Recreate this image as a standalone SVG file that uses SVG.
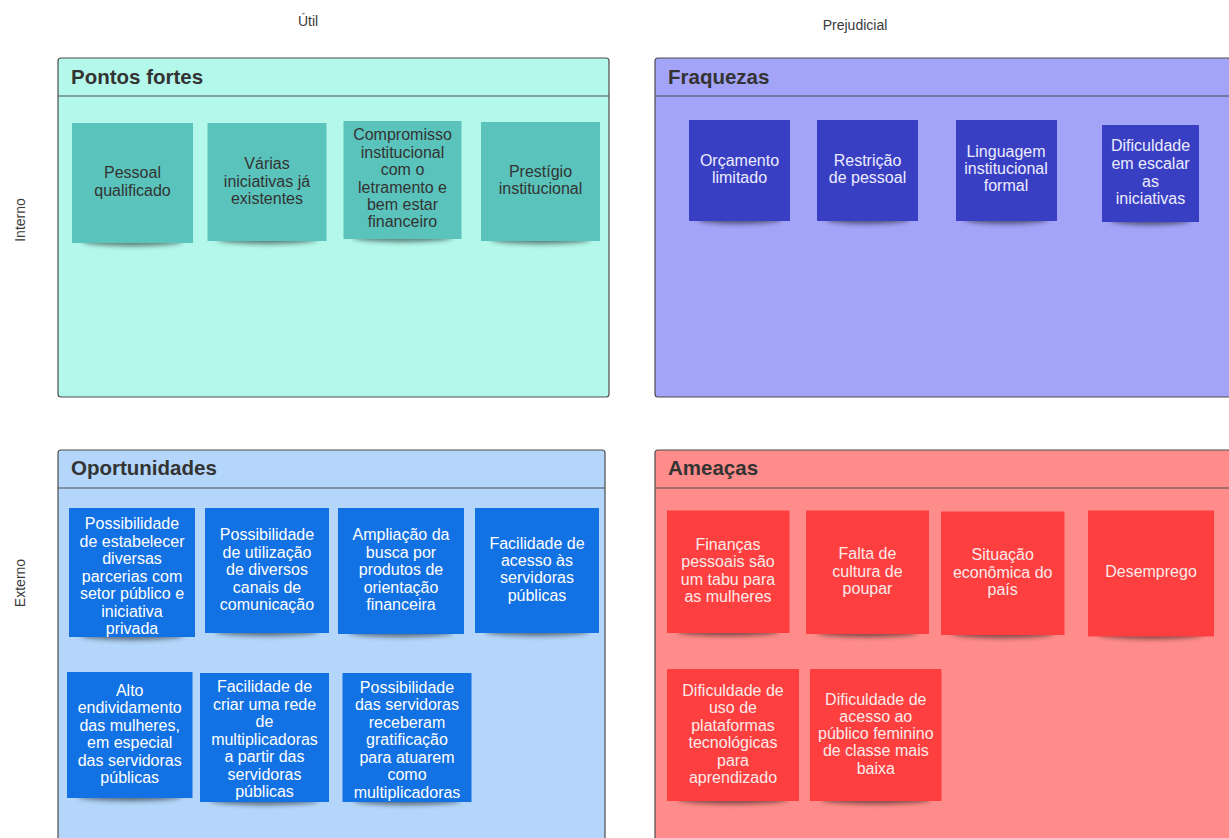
<svg xmlns="http://www.w3.org/2000/svg" width="1229" height="838" viewBox="0 0 1229 838">
<defs>
<filter id="sh" x="-30%" y="-200%" width="160%" height="500%"><feGaussianBlur stdDeviation="2.8"/></filter>
</defs>
<style>
text{font-family:"Liberation Sans",Arial,sans-serif}
.lbl{font-size:14px;fill:#3a3a3a}
.ttl{font-size:20.5px;font-weight:bold;fill:#333333}
.frame{stroke:#4d4d4d;stroke-width:1.2}
.nt{font-size:16px;text-anchor:middle}
.dk{fill:#333333}
.lt{fill:#ffffff}
.lr{fill:#fbeaea}
.lp{fill:#ececff}
.shd{fill:#000000;opacity:0.5;filter:url(#sh)}
.teal{fill:#5ac3bb}
.indigo{fill:#393fc3}
.blue{fill:#1271e3}
.red{fill:#fd3f3f}
</style>
<rect width="1229" height="838" fill="#ffffff"/>
<g id="axis-labels">
<text class="lbl" x="308" y="26" text-anchor="middle">Útil</text>
<text class="lbl" x="855" y="30" text-anchor="middle">Prejudicial</text>
<text class="lbl" x="0" y="0" text-anchor="middle" transform="translate(25 220) rotate(-90)">Interno</text>
<text class="lbl" x="0" y="0" text-anchor="middle" transform="translate(25 583) rotate(-90)">Externo</text>
</g>
<g id="pontos-fortes">
<rect class="frame" x="58" y="58" width="551" height="339" rx="3" fill="#b3f8eb"/>
<line class="frame" x1="58" y1="96" x2="609" y2="96"/>
<text class="ttl" x="71" y="84">Pontos fortes</text>
</g>
<g id="fraquezas">
<rect class="frame" x="655" y="58" width="600" height="339" rx="3" fill="#a3a3f8"/>
<line class="frame" x1="655" y1="96" x2="1240" y2="96"/>
<text class="ttl" x="668" y="84">Fraquezas</text>
</g>
<g id="oportunidades">
<rect class="frame" x="58" y="450" width="547" height="420" rx="3" fill="#b3d6fa"/>
<line class="frame" x1="58" y1="488" x2="605" y2="488"/>
<text class="ttl" x="71" y="475">Oportunidades</text>
</g>
<g id="ameacas">
<rect class="frame" x="655" y="450" width="600" height="420" rx="3" fill="#fe8c8a"/>
<line class="frame" x1="655" y1="488" x2="1240" y2="488"/>
<text class="ttl" x="668" y="475">Ameaças</text>
</g>

<g id="pf1"><ellipse class="shd" cx="132.5" cy="241" rx="50" ry="5"/><rect class="teal" x="72" y="123" width="121" height="120"/>
<text class="nt dk"><tspan x="132.5" y="178">Pessoal</tspan><tspan x="132.5" y="195.5">qualificado</tspan></text></g>
<g id="pf2"><ellipse class="shd" cx="267" cy="239" rx="50" ry="5"/><rect class="teal" x="207.5" y="123" width="119" height="118"/>
<text class="nt dk"><tspan x="267" y="169">Várias</tspan><tspan x="267" y="186.5">iniciativas já</tspan><tspan x="267" y="204">existentes</tspan></text></g>
<g id="pf3"><ellipse class="shd" cx="402.5" cy="237" rx="50" ry="5"/><rect class="teal" x="343.5" y="121" width="118" height="118"/>
<text class="nt dk"><tspan x="402.5" y="140">Compromisso</tspan><tspan x="402.5" y="157.5">institucional</tspan><tspan x="402.5" y="175">com o</tspan><tspan x="402.5" y="192.5">letramento e</tspan><tspan x="402.5" y="210">bem estar</tspan><tspan x="402.5" y="227">financeiro</tspan></text></g>
<g id="pf4"><ellipse class="shd" cx="540.5" cy="239" rx="50" ry="5"/><rect class="teal" x="481" y="122" width="119" height="119"/>
<text class="nt dk"><tspan x="540.5" y="176.5">Prestígio</tspan><tspan x="540.5" y="194">institucional</tspan></text></g>

<g id="fq1"><ellipse class="shd" cx="739.5" cy="219" rx="42" ry="5"/><rect class="indigo" x="689" y="120" width="101" height="101"/>
<text class="nt lp"><tspan x="739.5" y="165.5">Orçamento</tspan><tspan x="739.5" y="183">limitado</tspan></text></g>
<g id="fq2"><ellipse class="shd" cx="867.5" cy="219" rx="42" ry="5"/><rect class="indigo" x="817" y="120" width="101" height="101"/>
<text class="nt lp"><tspan x="867.5" y="165.5">Restrição</tspan><tspan x="867.5" y="183">de pessoal</tspan></text></g>
<g id="fq3"><ellipse class="shd" cx="1006" cy="219" rx="42" ry="5"/><rect class="indigo" x="956" y="120" width="101" height="101"/>
<text class="nt lp"><tspan x="1006" y="157">Linguagem</tspan><tspan x="1006" y="174">institucional</tspan><tspan x="1006" y="191">formal</tspan></text></g>
<g id="fq4"><ellipse class="shd" cx="1150.5" cy="220" rx="40" ry="5"/><rect class="indigo" x="1102" y="125" width="97" height="97"/>
<text class="nt lp"><tspan x="1150.5" y="151">Dificuldade</tspan><tspan x="1150.5" y="169">em escalar</tspan><tspan x="1150.5" y="186.5">as</tspan><tspan x="1150.5" y="204">iniciativas</tspan></text></g>

<g id="op1"><ellipse class="shd" cx="132" cy="635" rx="52" ry="5"/><rect class="blue" x="69" y="508" width="126" height="129"/>
<text class="nt lt"><tspan x="132" y="529">Possibilidade</tspan><tspan x="132" y="546.5">de estabelecer</tspan><tspan x="132" y="564">diversas</tspan><tspan x="132" y="581.5">parcerias com</tspan><tspan x="132" y="599">setor público e</tspan><tspan x="132" y="616.5">iniciativa</tspan><tspan x="132" y="634">privada</tspan></text></g>
<g id="op2"><ellipse class="shd" cx="267" cy="631" rx="52" ry="5"/><rect class="blue" x="205" y="508" width="124" height="125"/>
<text class="nt lt"><tspan x="267" y="540">Possibilidade</tspan><tspan x="267" y="557.5">de utilização</tspan><tspan x="267" y="575">de diversos</tspan><tspan x="267" y="592.5">canais de</tspan><tspan x="267" y="610">comunicação</tspan></text></g>
<g id="op3"><ellipse class="shd" cx="401" cy="632" rx="52" ry="5"/><rect class="blue" x="338" y="508" width="126" height="126"/>
<text class="nt lt"><tspan x="401" y="540">Ampliação da</tspan><tspan x="401" y="557.5">busca por</tspan><tspan x="401" y="575">produtos de</tspan><tspan x="401" y="592.5">orientação</tspan><tspan x="401" y="610">financeira</tspan></text></g>
<g id="op4"><ellipse class="shd" cx="537" cy="631" rx="52" ry="5"/><rect class="blue" x="475" y="508" width="124" height="125"/>
<text class="nt lt"><tspan x="537" y="549">Facilidade de</tspan><tspan x="537" y="566">acesso às</tspan><tspan x="537" y="583">servidoras</tspan><tspan x="537" y="600.5">públicas</tspan></text></g>
<g id="op5"><ellipse class="shd" cx="130" cy="796" rx="52" ry="5"/><rect class="blue" x="67" y="672" width="125.5" height="126"/>
<text class="nt lt"><tspan x="129.7" y="695.5">Alto</tspan><tspan x="129.7" y="713">endividamento</tspan><tspan x="129.7" y="730.5">das mulheres,</tspan><tspan x="129.7" y="748">em especial</tspan><tspan x="129.7" y="765.5">das servidoras</tspan><tspan x="129.7" y="783">públicas</tspan></text></g>
<g id="op6"><ellipse class="shd" cx="264.5" cy="800" rx="54" ry="5"/><rect class="blue" x="200" y="673" width="129" height="129"/>
<text class="nt lt"><tspan x="264.5" y="692">Facilidade de</tspan><tspan x="264.5" y="709.5">criar uma rede</tspan><tspan x="264.5" y="727">de</tspan><tspan x="264.5" y="744.5">multiplicadoras</tspan><tspan x="264.5" y="762">a partir das</tspan><tspan x="264.5" y="779.5">servidoras</tspan><tspan x="264.5" y="797">públicas</tspan></text></g>
<g id="op7"><ellipse class="shd" cx="407" cy="800" rx="54" ry="5"/><rect class="blue" x="342.5" y="673" width="129" height="129"/>
<text class="nt lt"><tspan x="407" y="692.5">Possibilidade</tspan><tspan x="407" y="710">das servidoras</tspan><tspan x="407" y="727.5">receberam</tspan><tspan x="407" y="745">gratificação</tspan><tspan x="407" y="762.5">para atuarem</tspan><tspan x="407" y="780">como</tspan><tspan x="407" y="797.5">multiplicadoras</tspan></text></g>

<g id="am1"><ellipse class="shd" cx="728" cy="631" rx="51" ry="5"/><rect class="red" x="667" y="510.5" width="122.5" height="122.5"/>
<text class="nt lr"><tspan x="728" y="549.5">Finanças</tspan><tspan x="728" y="567">pessoais são</tspan><tspan x="728" y="584.5">um tabu para</tspan><tspan x="728" y="602">as mulheres</tspan></text></g>
<g id="am2"><ellipse class="shd" cx="867.5" cy="632" rx="51" ry="5"/><rect class="red" x="806" y="510.5" width="123" height="123.5"/>
<text class="nt lr"><tspan x="867.5" y="559">Falta de</tspan><tspan x="867.5" y="576.5">cultura de</tspan><tspan x="867.5" y="594">poupar</tspan></text></g>
<g id="am3"><ellipse class="shd" cx="1002.7" cy="633" rx="51" ry="5"/><rect class="red" x="941" y="511.5" width="123.5" height="123.5"/>
<text class="nt lr"><tspan x="1002.7" y="560">Situação</tspan><tspan x="1002.7" y="577.5">econômica do</tspan><tspan x="1002.7" y="595">país</tspan></text></g>
<g id="am4"><ellipse class="shd" cx="1151" cy="634" rx="52" ry="5"/><rect class="red" x="1088" y="510.5" width="126" height="126"/>
<text class="nt lr"><tspan x="1151" y="577">Desemprego</tspan></text></g>
<g id="am5"><ellipse class="shd" cx="733" cy="799" rx="55" ry="5"/><rect class="red" x="667" y="669" width="132" height="132"/>
<text class="nt lr"><tspan x="733" y="695.5">Dificuldade de</tspan><tspan x="733" y="713">uso de</tspan><tspan x="733" y="730.5">plataformas</tspan><tspan x="733" y="748">tecnológicas</tspan><tspan x="733" y="765.5">para</tspan><tspan x="733" y="783">aprendizado</tspan></text></g>
<g id="am6"><ellipse class="shd" cx="875.8" cy="799" rx="55" ry="5"/><rect class="red" x="810" y="669" width="131.5" height="132"/>
<text class="nt lr"><tspan x="875.8" y="704.5">Dificuldade de</tspan><tspan x="875.8" y="721.5">acesso ao</tspan><tspan x="875.8" y="739">público feminino</tspan><tspan x="875.8" y="756">de classe mais</tspan><tspan x="875.8" y="773.5">baixa</tspan></text></g>
</svg>
